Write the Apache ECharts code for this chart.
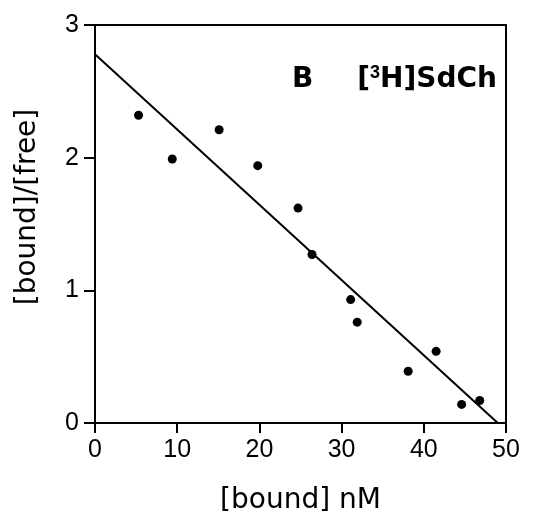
<!DOCTYPE html>
<html>
<head>
<meta charset="utf-8">
<script src="https://cdn.jsdelivr.net/npm/echarts@6/dist/echarts.min.js"></script>
<style>
  html, body { margin: 0; padding: 0; background: #fff; }
  #chart { width: 538px; height: 532px; }
</style>
</head>
<body>
<div id="chart"></div>
<script>
// Scatchard plot data
var boundX = [5.3, 9.4, 15.1, 19.8, 24.7, 26.4, 31.1, 31.9, 38.1, 41.5, 44.6, 46.8];
var ratioY = [2.32, 1.99, 2.21, 1.94, 1.62, 1.27, 0.93, 0.76, 0.39, 0.54, 0.14, 0.17];
// fitted line end points
var fitX = [0, 49];
var fitY = [2.78, 0];
var xTicks = [0, 10, 20, 30, 40, 50];
var yTicks = [0, 1, 2, 3];

var points = boundX.map(function (x, i) { return [x, ratioY[i]]; });
var fitLine = fitX.map(function (x, i) { return [x, fitY[i]]; });

var myChart = echarts.init(document.getElementById('chart'));
var font = 'Arial, "Liberation Sans", sans-serif';
var wide = '"DejaVu Sans", sans-serif';

var option = {
    animation: false,
    backgroundColor: '#fff',
    title: {
        text: '{b|B}{t|[}{s|3}{t|H]SdCh}',
        right: 36,
        top: 59,
        textStyle: {
            rich: {
                b: { fontSize: 28, fontWeight: 'bold', fontFamily: wide, color: '#000', lineHeight: 32, padding: [0, 44, 0, 0] },
                t: { fontSize: 28, fontWeight: 'bold', fontFamily: wide, color: '#000', lineHeight: 32 },
                s: { fontSize: 18, fontWeight: 'bold', fontFamily: font, color: '#000', lineHeight: 16, verticalAlign: 'top' }
            }
        }
    },
    grid: {
        left: 95, right: 32, top: 25, bottom: 109,
        show: true, borderColor: '#000', borderWidth: 2
    },
    xAxis: {
        type: 'value', min: 0, max: 50, interval: 10,
        name: '[bound] nM', nameLocation: 'middle', nameGap: 64,
        nameTextStyle: { fontSize: 28, fontFamily: wide, color: '#000' },
        axisLine: { lineStyle: { color: '#000', width: 2 } },
        axisTick: { length: 10, lineStyle: { color: '#000', width: 2 } },
        axisLabel: { fontSize: 25, fontFamily: font, color: '#000', margin: 15 },
        splitLine: { show: false }
    },
    yAxis: {
        type: 'value', min: 0, max: 3, interval: 1,
        name: '[bound]/[free]', nameLocation: 'middle', nameGap: 53,
        nameTextStyle: { fontSize: 28, fontFamily: wide, color: '#000', padding: [0, 0, 0, 34] },
        axisLine: { lineStyle: { color: '#000', width: 2 } },
        axisTick: { length: 11, lineStyle: { color: '#000', width: 2 } },
        axisLabel: { fontSize: 25, fontFamily: font, color: '#000', margin: 16 },
        splitLine: { show: false }
    },
    series: [{
        type: 'scatter',
        data: points,
        symbol: 'circle',
        symbolSize: 9,
        itemStyle: { color: '#000', opacity: 1 }
    }, {
        type: 'line',
        data: fitLine,
        symbol: 'none',
        lineStyle: { color: '#000', width: 2 }
    }]
};

myChart.setOption(option);
</script>
</body>
</html>
